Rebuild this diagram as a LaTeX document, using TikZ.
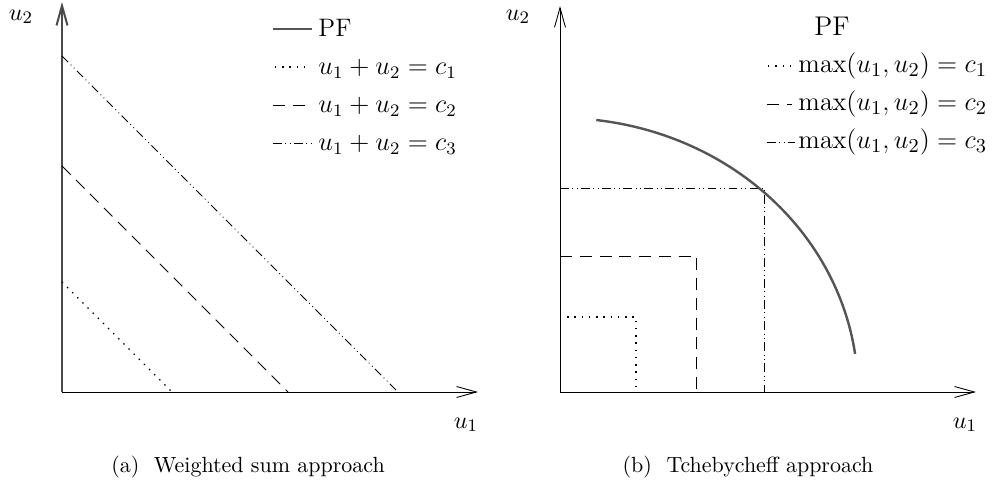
\documentclass[tikz,border=0pt]{standalone}
\usepackage{xcolor}
\usepackage{tikz}
\usetikzlibrary{arrows.meta,positioning}
\definecolor{pfGray}{HTML}{555555}
\definecolor{axisGray}{HTML}{4A4A4A}

\begin{document}
\begin{tikzpicture}[
  x=0.016cm, y=-0.016cm,
  axis/.style={-{Straight Barb[length=9pt, width=5pt]}, thin, draw=black},
  yaxis/.style={axis, line width=0.9pt, draw=axisGray},
  pfline/.style={line width=1.1pt, draw=pfGray},
  lvlone/.style={line width=0.6pt, dash pattern=on 0.6pt off 2.7pt},
  lvltwo/.style={thin, dash pattern=on 5.5pt off 3.5pt},
  lvlthree/.style={thin, dash pattern=on 4pt off 1.6pt on 0.4pt off 1.6pt on 0.4pt off 1.6pt},
  lab/.style={inner sep=0pt, font=\fontsize{11}{13}\selectfont},
  leg/.style={anchor=base west, inner sep=0pt, font=\fontsize{11.5}{14}\selectfont},
  legb/.style={leg, font=\fontsize{12.3}{15}\selectfont}
]
\useasboundingbox (0,0) rectangle (1002,488);
% (a) weighted sum
\coordinate (oA) at (62,392);
\coordinate (xA) at (478,392);
\coordinate (yA) at (62,2);
\draw[axis] (oA) -- (xA);
\draw[yaxis] (oA) -- (yA);
\node[lab] (u2A) at (21,17) {$u_2$};
\node[lab] (u1A) at (466,425) {$u_1$};
\draw[lvlone] (62,282) -- (172,392);
\draw[lvltwo] (62,166) -- (288,392);
\draw[lvlthree] (62,56) -- (398,392);
% legend (a)
\node[leg] (pfA) at (318,37) {PF};
\node[leg] (cA1) at (318,75) {$u_1 + u_2 = c_1$};
\node[leg] (cA2) at (318,113) {$u_1 + u_2 = c_2$};
\node[leg] (cA3) at (318,151) {$u_1 + u_2 = c_3$};
\draw[pfline] (273,29) -- (312,29);
\draw[lvlone] (275,67) -- (311,67);
\draw[lvltwo] (273,105) -- (311,105);
\draw[lvlthree] (273,143) -- (312,143);
\node (capA) at (248,467) {(a)~~Weighted sum approach};
% (b) tchebycheff
\coordinate (oB) at (560,392);
\coordinate (xB) at (976,392);
\coordinate (yB) at (560,6);
\draw[axis] (oB) -- (xB);
\draw[axis] (oB) -- (yB);
\node[lab] (u2B) at (518,17) {$u_2$};
\node[lab] (u1B) at (965,425) {$u_1$};
\draw[lvlone] (560,317) -| (636,392);
\draw[lvltwo] (560,256) -| (696,392);
\draw[lvlthree] (560,188) -| (764,392);
\draw[pfline] plot[domain=83:8, samples=60] ({560+298*cos(\x)},{392-274*sin(\x)});
% legend (b)
\node[legb] (pfB) at (814,36) {PF};
\node[legb] (cB1) at (798,73) {$\max(u_1, u_2) = c_1$};
\node[legb] (cB2) at (798,111) {$\max(u_1, u_2) = c_2$};
\node[legb] (cB3) at (798,149) {$\max(u_1, u_2) = c_3$};
\draw[lvlone] (768,66) -- (792,66);
\draw[lvltwo] (767,104) -- (792,104);
\draw[lvlthree] (767,142) -- (795,142);
\node (capB) at (748,467) {(b)~~Tchebycheff approach};
\end{tikzpicture}
\end{document}
